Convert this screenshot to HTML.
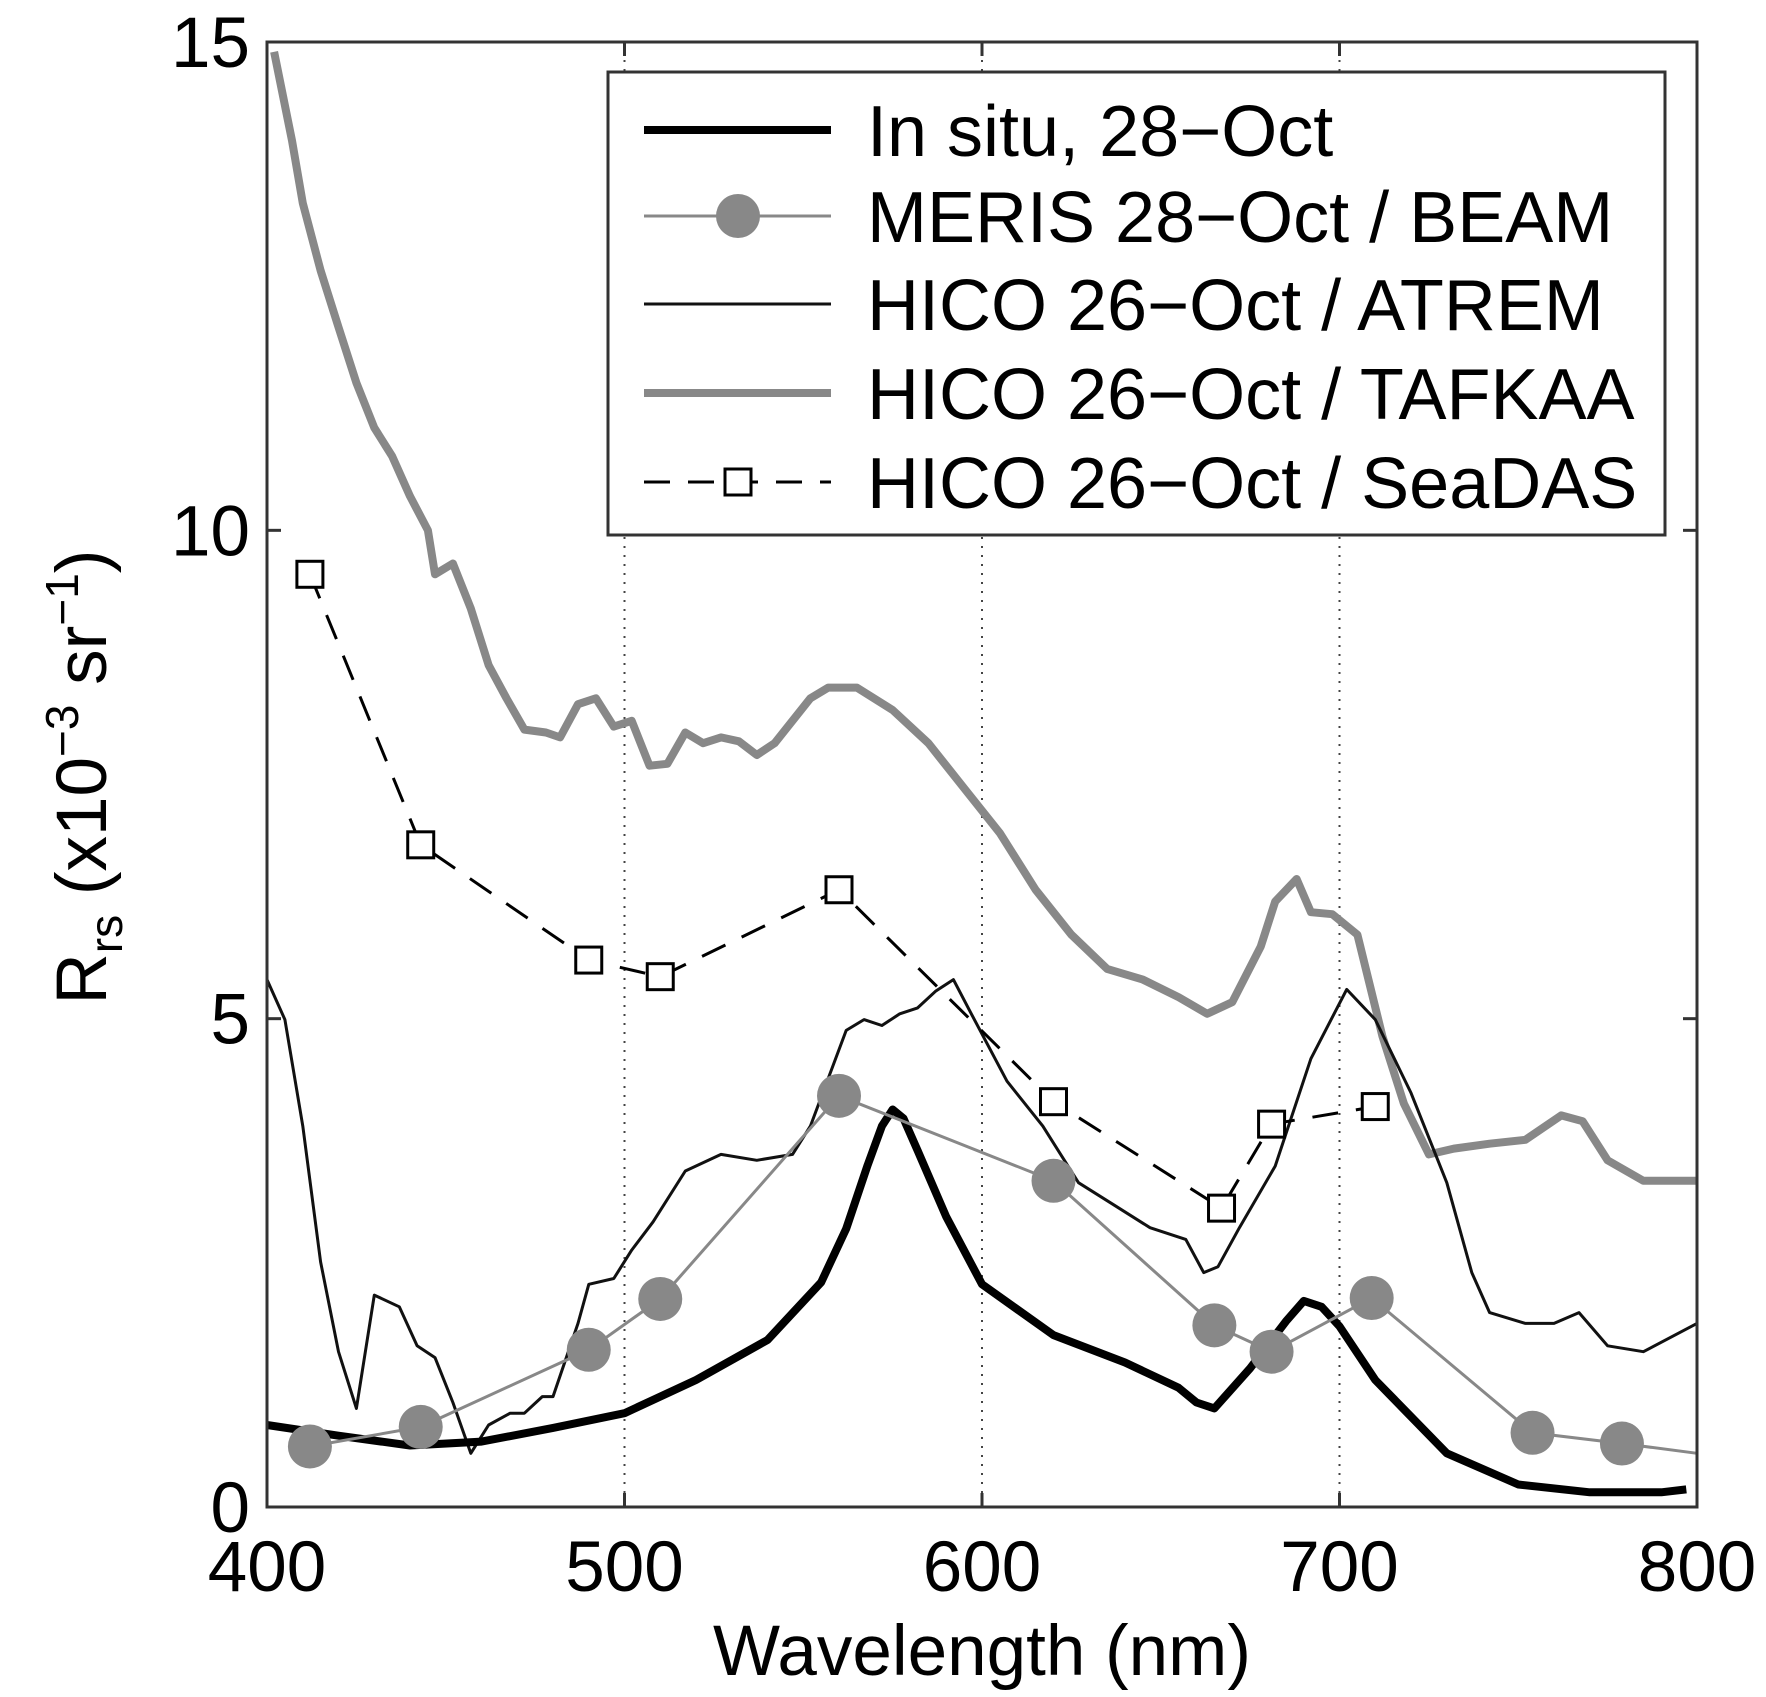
<!DOCTYPE html>
<html><head><meta charset="utf-8"><style>
html,body{margin:0;padding:0;background:#fff}
svg{display:block;font-family:"Liberation Sans",Arial,sans-serif}
</style></head><body>
<svg id="chart" width="1766" height="1697" viewBox="0 0 1766 1697" xmlns="http://www.w3.org/2000/svg">
<rect width="1766" height="1697" fill="#fff"/>
<g id="grid"></g>
<g id="series"></g>
<g id="axes"></g>
<g id="legend"></g>
</svg>
<script>
const xTicks=[400,500,600,700,800];
const yTicks=[0,5,10,15];
const insituX=[400,420,440,460,480,500,520,540,555,562,568,572,575,578,582,590,600,620,640,655,660,665,675,685,690,695,700,710,730,750,770,790,797];
const insituY=[0.84,0.73,0.63,0.67,0.81,0.96,1.30,1.71,2.30,2.85,3.50,3.90,4.07,3.98,3.65,2.97,2.28,1.76,1.48,1.22,1.07,1.01,1.42,1.90,2.11,2.05,1.85,1.30,0.55,0.23,0.15,0.15,0.18];
const merisX=[412,443,490,510,560,620,665,681,709,754,779];
const merisY=[0.62,0.82,1.61,2.13,4.21,3.34,1.86,1.59,2.14,0.76,0.65];
const merisTailX=[800];
const merisTailY=[0.55];
const atremX=[400,405,410,415,420,425,430,437,442,447,452,457,462,468,472,477,480,487,490,497,502,508,517,527,537,547,552,562,567,572,577,582,587,592,597,607,617,627,637,647,657,662,666,672,682,692,702,710,720,730,737,742,752,760,767,775,785,800];
const atremY=[5.40,4.99,3.90,2.51,1.59,1.01,2.17,2.05,1.65,1.53,1.07,0.55,0.84,0.96,0.96,1.13,1.13,1.88,2.28,2.34,2.63,2.92,3.44,3.61,3.55,3.61,3.90,4.88,4.99,4.93,5.05,5.11,5.28,5.40,5.05,4.36,3.90,3.32,3.09,2.86,2.74,2.40,2.46,2.86,3.49,4.59,5.30,4.99,4.24,3.32,2.40,1.99,1.88,1.88,1.99,1.65,1.59,1.88];
const tafkaaX=[402,407,410,415,420,425,430,435,440,445,447,452,457,462,467,472,478,482,487,492,497,502,507,512,517,522,527,532,537,542,552,557,565,575,585,595,605,615,625,635,645,655,663,670,678,682,688,692,698,705,712,718,725,732,742,752,762,768,775,785,800];
const tafkaaY=[14.9,13.99,13.35,12.66,12.08,11.51,11.05,10.76,10.35,10.0,9.55,9.66,9.2,8.62,8.28,7.96,7.93,7.88,8.22,8.28,7.99,8.05,7.59,7.61,7.93,7.82,7.88,7.84,7.70,7.82,8.28,8.39,8.39,8.16,7.82,7.36,6.90,6.32,5.86,5.51,5.40,5.22,5.05,5.17,5.74,6.20,6.43,6.09,6.07,5.86,4.82,4.13,3.61,3.67,3.72,3.76,4.01,3.95,3.55,3.34,3.34];
const seadasX=[412,443,490,510,560,620,667,681,710];
const seadasY=[9.55,6.78,5.60,5.43,6.32,4.15,3.06,3.92,4.10];

const L=267,R=1697,T=42,B=1507;
const sx=v=>L+(v-400)/400*(R-L);
const sy=v=>B-v/15*(B-T);
const NS="http://www.w3.org/2000/svg";
function mk(tag,attrs,parent){const e=document.createElementNS(NS,tag);for(const k in attrs)e.setAttribute(k,attrs[k]);parent.appendChild(e);return e;}
const grid=document.getElementById('grid'),ser=document.getElementById('series'),ax=document.getElementById('axes'),lg=document.getElementById('legend');

xTicks.slice(1,-1).forEach(t=>{
  const g=mk('line',{x1:sx(t),x2:sx(t),y1:T,y2:B,stroke:'#444','stroke-width':2,'stroke-dasharray':'2,7'},grid);
  
  
});
function pts(xs,ys){return xs.map((x,i)=>sx(x).toFixed(1)+','+sy(ys[i]).toFixed(1)).join(' ');}
let p;
p=mk('polyline',{points:pts(tafkaaX,tafkaaY),fill:'none',stroke:'#888','stroke-width':8,'stroke-linejoin':'round'},ser);


p=mk('polyline',{points:pts(atremX,atremY),fill:'none',stroke:'#111','stroke-width':3,'stroke-linejoin':'round'},ser);


p=mk('polyline',{points:pts(insituX,insituY),fill:'none',stroke:'#000','stroke-width':8,'stroke-linejoin':'round'},ser);


p=mk('polyline',{points:pts(merisX.concat(merisTailX),merisY.concat(merisTailY)),fill:'none',stroke:'#888','stroke-width':3},ser);


merisX.forEach((x,i)=>{
  const c=mk('circle',{cx:sx(x),cy:sy(merisY[i]),r:22,fill:'#888'},ser);
  
  
});
p=mk('polyline',{points:pts(seadasX,seadasY),fill:'none',stroke:'#000','stroke-width':3,'stroke-dasharray':'26,18'},ser);


seadasX.forEach((x,i)=>{
  const s=mk('rect',{x:sx(x)-13,y:sy(seadasY[i])-13,width:26,height:26,fill:'#fff',stroke:'#000','stroke-width':3},ser);
  
  
});

const fr=mk('rect',{x:L,y:T,width:R-L,height:B-T,fill:'none',stroke:'#333','stroke-width':3},ax);


xTicks.forEach(t=>{
  mk('line',{x1:sx(t),x2:sx(t),y1:B,y2:B-14,stroke:'#333','stroke-width':3},ax);
  mk('line',{x1:sx(t),x2:sx(t),y1:T,y2:T+14,stroke:'#333','stroke-width':3},ax);
  const tx=mk('text',{x:sx(t),y:1591,'text-anchor':'middle','font-size':71,fill:'#000'},ax);
  tx.textContent=t;
  
  
});
yTicks.forEach(t=>{
  mk('line',{x1:L,x2:L+14,y1:sy(t),y2:sy(t),stroke:'#333','stroke-width':3},ax);
  mk('line',{x1:R,x2:R-14,y1:sy(t),y2:sy(t),stroke:'#333','stroke-width':3},ax);
  const tx=mk('text',{x:250,y:sy(t)+25,'text-anchor':'end','font-size':71,fill:'#000'},ax);
  tx.textContent=t;
  
  
});
const xl=mk('text',{x:982,y:1675,'text-anchor':'middle','font-size':71,fill:'#000'},ax);
xl.textContent='Wavelength (nm)';


const yl=mk('text',{transform:'translate(106,777) rotate(-90)','text-anchor':'middle','font-size':71,fill:'#000'},ax);
yl.innerHTML='R<tspan font-size="46" dy="16">rs</tspan><tspan dy="-16"> (x10</tspan><tspan font-size="46" dy="-28">−3</tspan><tspan dy="28"> sr</tspan><tspan font-size="46" dy="-28">−1</tspan><tspan dy="28">)</tspan>';



const lb=mk('rect',{x:608,y:72,width:1057,height:463,fill:'#fff',stroke:'#333','stroke-width':3},lg);


const labels=['In situ, 28−Oct','MERIS 28−Oct / BEAM','HICO 26−Oct / ATREM','HICO 26−Oct / TAFKAA','HICO 26−Oct / SeaDAS'];
const rows=[130,216,304,393,482];
labels.forEach((lab,i)=>{
  const y=rows[i];
  const g=mk('g',{},lg);
  
  
  if(i==0) mk('line',{x1:644,x2:831,y1:y,y2:y,stroke:'#000','stroke-width':8},g);
  if(i==1){mk('line',{x1:644,x2:831,y1:y,y2:y,stroke:'#888','stroke-width':3},g);mk('circle',{cx:738,cy:y,r:22,fill:'#888'},g);}
  if(i==2) mk('line',{x1:644,x2:831,y1:y,y2:y,stroke:'#111','stroke-width':3},g);
  if(i==3) mk('line',{x1:644,x2:831,y1:y,y2:y,stroke:'#888','stroke-width':8},g);
  if(i==4){mk('line',{x1:644,x2:831,y1:y,y2:y,stroke:'#000','stroke-width':3,'stroke-dasharray':'26,18'},g);mk('rect',{x:725,y:y-13,width:26,height:26,fill:'#fff',stroke:'#000','stroke-width':3},g);}
  const t=mk('text',{x:867,y:y+26,'font-size':72,fill:'#000'},g);
  t.textContent=lab;
});
</script>
</body></html>
